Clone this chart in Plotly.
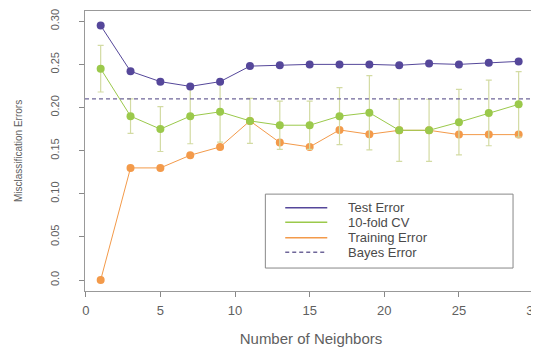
import plotly.graph_objects as go

k = [1, 3, 5, 7, 9, 11, 13, 15, 17, 19, 21, 23, 25, 27, 29]
test_error = [0.295, 0.242, 0.230, 0.2245, 0.230, 0.248, 0.249, 0.250, 0.250, 0.250, 0.249, 0.251, 0.250, 0.252, 0.2535]
cv_error = [0.245, 0.190, 0.175, 0.190, 0.195, 0.1845, 0.1795, 0.1795, 0.190, 0.194, 0.1736, 0.1736, 0.183, 0.1937, 0.2037]
cv_se = [0.027, 0.020, 0.026, 0.032, 0.035, 0.026, 0.028, 0.028, 0.033, 0.043, 0.036, 0.036, 0.038, 0.038, 0.038]
train_error = [0.0, 0.13, 0.13, 0.1447, 0.1543, 0.1845, 0.1594, 0.1543, 0.174, 0.169, 0.1736, 0.1736, 0.1686, 0.1686, 0.1686]
bayes_error = 0.21
x_ticks = [0, 5, 10, 15, 20, 25, 30]
y_ticks = [0.0, 0.05, 0.10, 0.15, 0.20, 0.25, 0.30]
y_tick_labels = ["0.0", "0.05", "0.10", "0.15", "0.20", "0.25", "0.30"]
legend_names = ["Test Error", "10-fold CV", "Training Error", "Bayes Error"]

PURPLE = "#55479a"
GREEN = "#9bc94b"
ORANGE = "#f39a4a"
BAR = "#d3dba3"
BAYES = "#6f6699"
TXT = "#606060"
FONT = "Liberation Sans, Arial, sans-serif"

fig = go.Figure()

fig.add_trace(go.Scatter(x=k, y=train_error, mode="lines+markers", showlegend=False,
                         line=dict(color=ORANGE, width=1), marker=dict(color=ORANGE, size=8)))
fig.add_trace(go.Scatter(x=k, y=cv_error, mode="lines+markers", showlegend=False,
                         line=dict(color=GREEN, width=1), marker=dict(color=GREEN, size=8),
                         error_y=dict(type="data", array=cv_se, color=BAR, thickness=1.2, width=3)))
fig.add_trace(go.Scatter(x=k, y=test_error, mode="lines+markers", showlegend=False,
                         line=dict(color=PURPLE, width=1), marker=dict(color=PURPLE, size=8)))

fig.add_shape(type="line", xref="x domain", yref="y", x0=0, x1=1, y0=bayes_error, y1=bayes_error,
              line=dict(color=BAYES, width=1.2, dash="4px,3px"))

# manual legend (box, sample lines, labels)
fig.add_shape(type="rect", xref="paper", yref="paper", x0=0.399, x1=0.947, y0=0.082, y1=0.346,
              line=dict(color="#888888", width=1))
legend_colors = [PURPLE, GREEN, ORANGE, BAYES]
legend_dash = ["solid", "solid", "solid", "4px,3px"]
legend_rows = [0.2975, 0.2454, 0.1904, 0.1382]
for name, col, dash, yy in zip(legend_names, legend_colors, legend_dash, legend_rows):
    fig.add_shape(type="line", xref="paper", yref="paper", x0=0.443, x1=0.536, y0=yy, y1=yy,
                  line=dict(color=col, width=1.5, dash=dash))
    fig.add_annotation(text=name, xref="paper", yref="paper", x=0.578, y=yy, xanchor="left",
                       yanchor="middle", showarrow=False, font=dict(size=13, color="#4a4a4a"))

fig.update_layout(
    width=545, height=340,
    margin=dict(l=77, r=16, t=3, b=57),
    paper_bgcolor="white", plot_bgcolor="white",
    font=dict(family=FONT, color=TXT, size=11),
    showlegend=False,
    xaxis=dict(range=[-0.05, 30.23], tickvals=x_ticks, ticks="outside", ticklen=5, tickcolor="#888888",
               showgrid=False, zeroline=False, showline=True, mirror=True, linecolor="#999999", linewidth=1,
               title=dict(text="Number of Neighbors", standoff=16, font=dict(size=15)),
               tickfont=dict(size=13), ticklabelstandoff=2, ticklabeloverflow="allow", automargin=False),
    yaxis=dict(range=[-0.0127, 0.3119], tickvals=y_ticks, ticktext=y_tick_labels, tickangle=-90,
               ticks="outside", ticklen=5, tickcolor="#888888",
               showgrid=False, zeroline=False, showline=True, mirror=True, linecolor="#999999", linewidth=1,
               title=dict(text="Misclassification Errors", standoff=24, font=dict(size=10)),
               tickfont=dict(size=11), ticklabelstandoff=16, automargin=False),
)

fig.write_html("out.html")
